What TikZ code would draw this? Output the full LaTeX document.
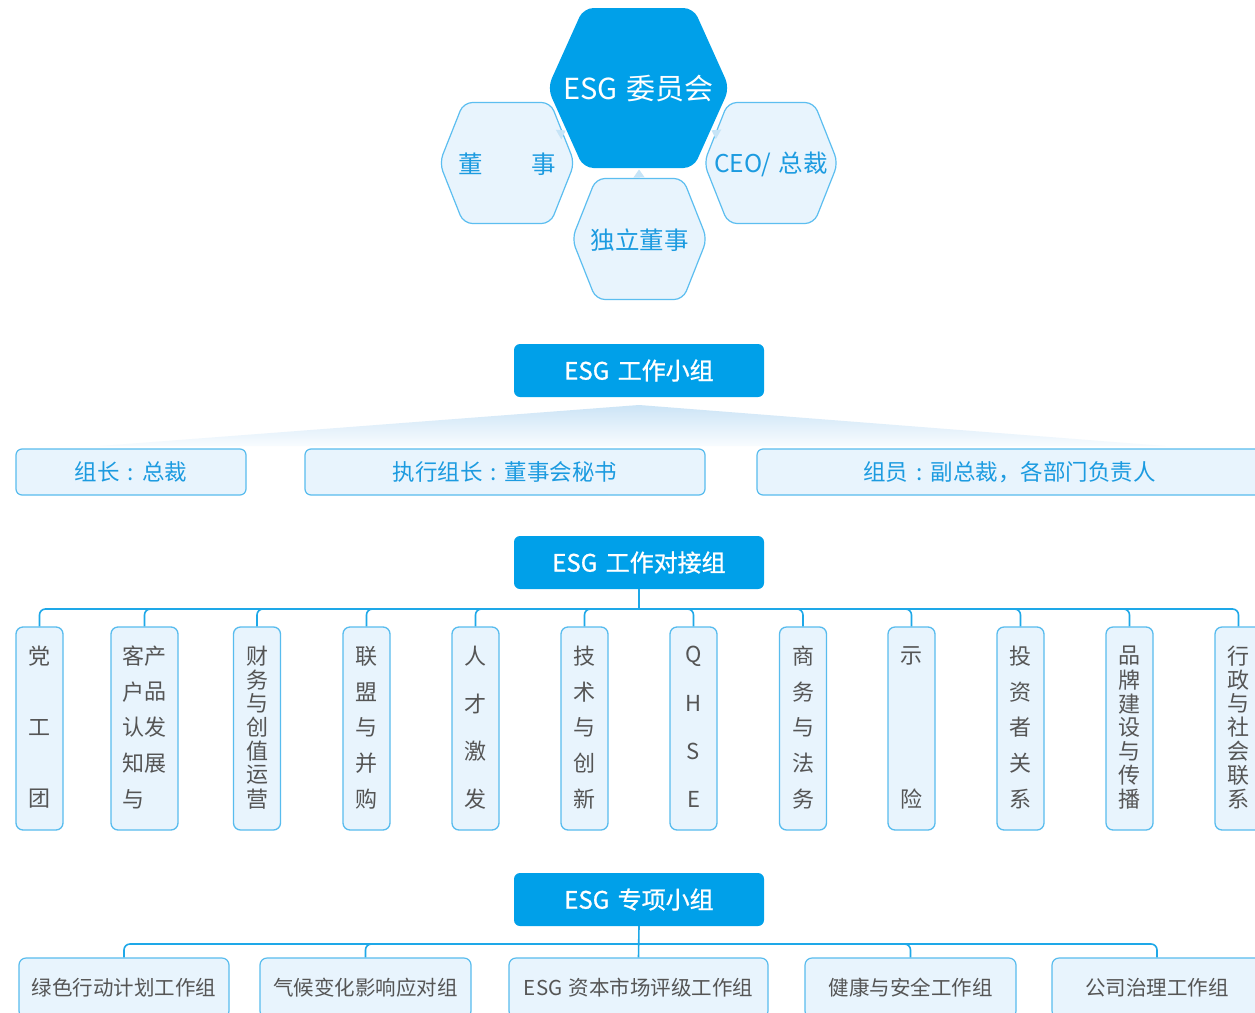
\documentclass[tikz,border=0pt]{standalone}
\usepackage{fontspec}
\setmainfont{Noto Sans CJK SC}
\newfontfamily\headfont[FakeBold=0.9]{Noto Sans CJK SC}
\usetikzlibrary{arrows.meta,calc}
\definecolor{esgblue}{RGB}{0,160,233}
\definecolor{boxfill}{RGB}{232,244,253}
\definecolor{boxline}{RGB}{88,188,238}
\definecolor{hexline}{RGB}{92,190,240}
\definecolor{labelblue}{RGB}{28,155,224}
\definecolor{txtgrey}{RGB}{85,85,85}
\definecolor{treeblue}{RGB}{30,168,232}
\definecolor{arrowlight}{RGB}{198,228,247}
\definecolor{fantop}{RGB}{204,228,246}
\newcommand{\hexagonpath}[6]{%
  \path[#1] (#2,#3-#5) -- (#2+#4-#6,#3-#5) -- (#2+#4,#3) -- (#2+#4-#6,#3+#5)
    -- (#2-#4+#6,#3+#5) -- (#2-#4,#3) -- (#2-#4+#6,#3-#5) -- cycle;}
\newcommand{\vchars}[4]{%
  \foreach \ch [count=\i] in {#4}{\node[vch] (#1-\i) at (#2,{656+(\i-1)*143/(#3-1)}) {\ch};}}
\newcommand{\csep}{\hspace{0.36em}:\hspace{0.36em}}
\begin{document}
\begin{tikzpicture}[x=1pt,y=-1pt,
  headbox/.style={fill=esgblue, rounded corners=6pt, minimum width=250pt, minimum height=53pt,
    text=white, font=\headfont\fontsize{24}{24}\selectfont, inner sep=0pt},
  rowbox/.style={draw=boxline, fill=boxfill, line width=1.2pt, rounded corners=6pt,
    minimum height=46pt, text=labelblue, font=\fontsize{22.5}{22.5}\selectfont, inner sep=0pt},
  vbox/.style={draw=boxline, fill=boxfill, line width=1.3pt, rounded corners=7pt,
    minimum height=203pt, minimum width=47pt, inner sep=0pt},
  vch/.style={text=txtgrey, font=\fontsize{22}{22}\selectfont, inner sep=0pt},
  botbox/.style={draw=boxline, fill=boxfill, line width=1.2pt, rounded corners=7pt,
    minimum width=210pt, minimum height=60pt, text=txtgrey,
    font=\fontsize{20.5}{20.5}\selectfont, inner sep=0pt},
  tree/.style={draw=treeblue, line width=1.6pt, rounded corners=6pt},
  hexbig/.style={fill=esgblue, rounded corners=10pt},
  hexsmall/.style={draw=hexline, fill=boxfill, line width=1.2pt, rounded corners=9pt},
  hexlabel/.style={text=labelblue, font=\fontsize{24.5}{24.5}\selectfont, inner sep=0pt},
  hexarrow/.style={draw=arrowlight, line width=1pt, -{Triangle[length=8pt,width=11pt]}}
]
\useasboundingbox (0,0) rectangle (1255,1012);
\fill[white] (0,0) rectangle (1255,1012);

% ---------- ESG committee hexagons ----------
\hexagonpath{hexsmall}{507}{163}{67.5}{60.5}{24}
\hexagonpath{hexsmall}{771}{163}{67}{60.5}{24}
\hexagonpath{hexsmall}{639.5}{239}{67.5}{60.5}{24}
\hexagonpath{hexbig}{638.5}{88}{91}{80}{36}

\node[text=white, font=\fontsize{29}{29}\selectfont, inner sep=0pt] (esg) at (638.5,89) {ESG\hspace{0.3em}委员会};
\node[hexlabel] (dong) at (507,164) {董\hspace{48pt}事};
\node[hexlabel] (ceo) at (771,164) {CEO/\hspace{0.3em}总裁};
\node[hexlabel] (indep) at (639.5,240) {独立董事};

\draw[hexarrow, shorten <=60pt, shorten >=84pt] (dong.center) -- (esg.center);
\draw[hexarrow, shorten <=61pt, shorten >=84pt] (ceo.center) -- (esg.center);
\draw[hexarrow, shorten <=62pt, shorten >=80.5pt] (indep.center) -- (esg.center);

% ---------- ESG working group ----------
\node[headbox] (wg) at (639,370.5) {ESG\hspace{0.35em}工作小组};
\shade[top color=fantop, bottom color=boxfill!30!white]
  (100,446) -- (wg.south |- 0,405) -- (1165,446) -- cycle;
\node[rowbox, minimum width=230pt] (leader) at (131,472) {组长\csep 总裁};
\node[rowbox, minimum width=400pt] (exec) at (505,472) {执行组长\csep 董事会秘书};
\node[rowbox, minimum width=505pt] (member) at (1009.5,472) {组员\csep 副总裁，各部门负责人};

% ---------- ESG liaison group ----------
\node[headbox] (jd) at (639,562.5) {ESG\hspace{0.35em}工作对接组};
\coordinate (hub2) at (639,609);

\node[vbox] (v1) at (39.5,728.5) {};
\node[vbox, minimum width=67pt] (v2) at (144.5,728.5) {};
\node[vbox] (v3) at (257,728.5) {};
\node[vbox] (v4) at (366.5,728.5) {};
\node[vbox] (v5) at (475.5,728.5) {};
\node[vbox] (v6) at (584.5,728.5) {};
\node[vbox] (v7) at (693.5,728.5) {};
\node[vbox] (v8) at (803,728.5) {};
\node[vbox] (v9) at (911.5,728.5) {};
\node[vbox] (v10) at (1020.5,728.5) {};
\node[vbox] (v11) at (1129.5,728.5) {};
\node[vbox] (v12) at (1238.5,728.5) {};

\draw[tree] (jd.south) -- (hub2);
\foreach \k in {1,...,12}{\draw[tree] (hub2) -| (v\k.north);}

\vchars{c1}{39.5}{3}{党,工,团}
\vchars{c2a}{133.5}{5}{客,户,认,知,与}
\vchars{c2b}{155.5}{5}{产,品,发,展}
\vchars{c3}{257}{7}{财,务,与,创,值,运,营}
\vchars{c4}{366.5}{5}{联,盟,与,并,购}
\vchars{c5}{475.5}{4}{人,才,激,发}
\vchars{c6}{584.5}{5}{技,术,与,创,新}
\vchars{c7}{693.5}{4}{Q,H,S,E}
\vchars{c8}{803}{5}{商,务,与,法,务}
\vchars{c9}{911.5}{2}{示,险}
\vchars{c10}{1020.5}{5}{投,资,者,关,系}
\vchars{c11}{1129.5}{7}{品,牌,建,设,与,传,播}
\vchars{c12}{1238.5}{7}{行,政,与,社,会,联,系}

% ---------- ESG special groups ----------
\node[headbox] (zx) at (639,899.5) {ESG\hspace{0.35em}专项小组};
\coordinate (hub3) at (638.5,944);
\node[botbox] (b1) at (124,988) {绿色行动计划工作组};
\node[botbox, minimum width=211pt] (b2) at (365.5,988) {气候变化影响应对组};
\node[botbox, minimum width=259pt] (b3) at (638.5,988) {ESG\hspace{0.3em}资本市场评级工作组};
\node[botbox, minimum width=211pt] (b4) at (910.5,988) {健康与安全工作组};
\node[botbox] (b5) at (1157,988) {公司治理工作组};

\draw[tree] (zx.south) -- (b3.north);
\foreach \k in {1,2,4,5}{\draw[tree] (hub3) -| (b\k.north);}
\end{tikzpicture}
\end{document}
